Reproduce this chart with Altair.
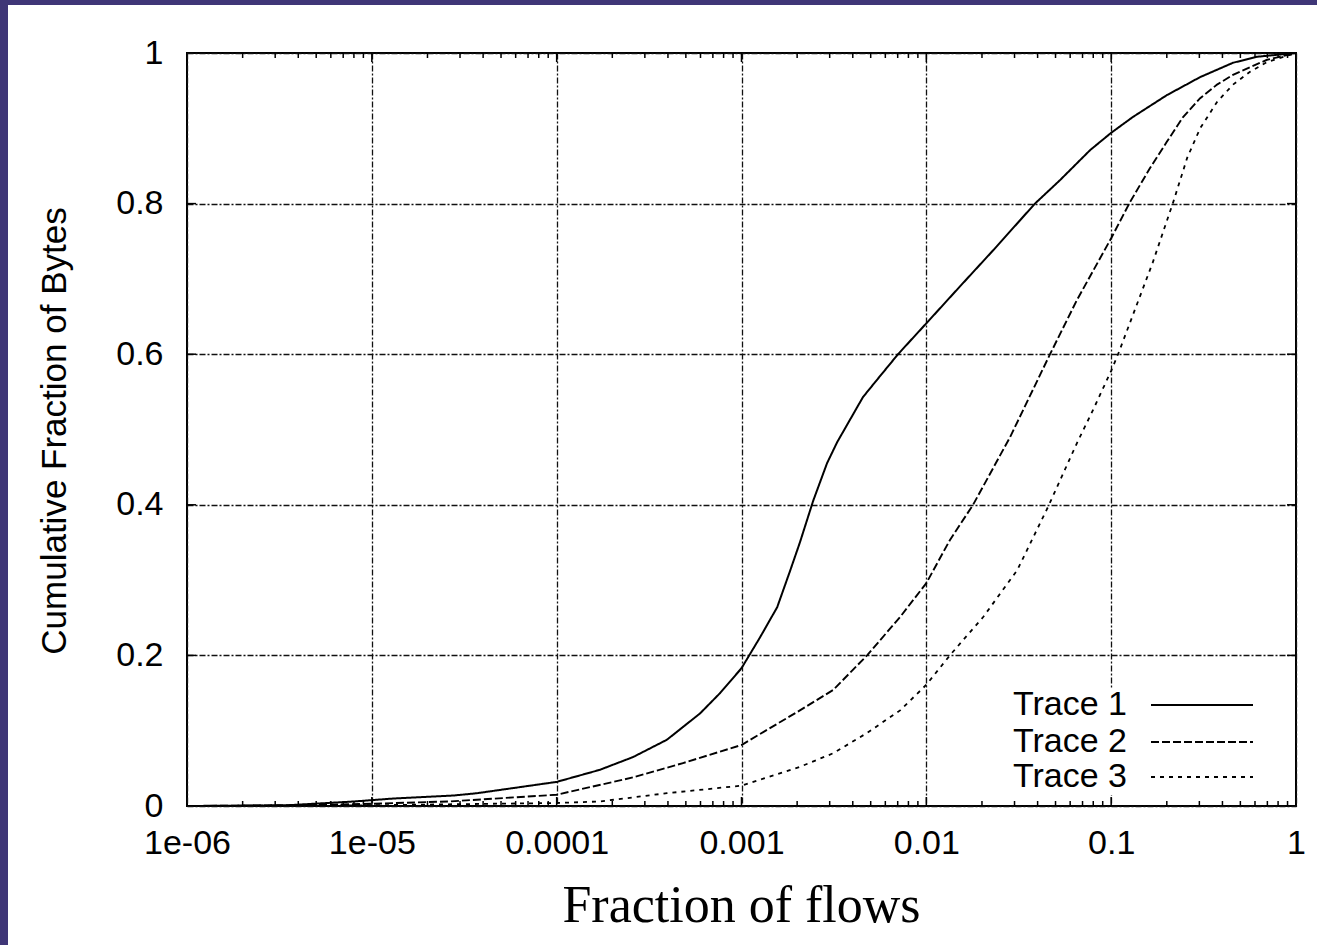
import altair as alt
import pandas as pd

# ---------------- data ----------------
trace_names = ["Trace 1", "Trace 2", "Trace 3"]

t1_x = [1e-6, 3.5e-6, 8.0e-6, 1.32e-5, 2.79e-5, 3.71e-5, 1.0e-4, 1.71e-4, 2.59e-4, 3.95e-4,
        5.97e-4, 7.66e-4, 1.0e-3, 1.26e-3, 1.56e-3, 1.83e-3, 2.07e-3, 2.44e-3, 2.90e-3,
        3.29e-3, 4.54e-3, 5.41e-3, 7.03e-3, 0.01, 0.0152, 0.0230, 0.0387, 0.0528, 0.0769,
        0.1, 0.131, 0.2, 0.303, 0.456, 0.615, 1.0]
t1_y = [0.0, 0.001, 0.006, 0.01, 0.014, 0.017, 0.032, 0.048, 0.065, 0.088,
        0.123, 0.15, 0.183, 0.224, 0.264, 0.312, 0.35, 0.405, 0.455,
        0.483, 0.543, 0.566, 0.6, 0.641, 0.69, 0.738, 0.8, 0.831, 0.871,
        0.894, 0.915, 0.944, 0.968, 0.987, 0.995, 1.0]

t2_x = [1e-6, 4.1e-6, 1e-5, 2.6e-5, 1e-4, 2.59e-4, 4.83e-4, 1e-3, 2.07e-3, 3.13e-3,
        4.78e-3, 7.21e-3, 0.01, 0.0134, 0.0179, 0.0284, 0.0467, 0.0653, 0.1, 0.1265,
        0.162, 0.2, 0.245, 0.303, 0.374, 0.456, 0.564, 0.697, 1.0]
t2_y = [0.0, 0.001, 0.003, 0.006, 0.015, 0.038, 0.057, 0.081, 0.127, 0.154,
        0.2, 0.251, 0.296, 0.353, 0.4, 0.49, 0.6, 0.672, 0.754, 0.802,
        0.847, 0.882, 0.915, 0.94, 0.958, 0.971, 0.981, 0.991, 1.0]

t3_x = [1e-6, 1e-5, 1e-4, 1.71e-4, 3.95e-4, 1e-3, 2.07e-3, 3.13e-3, 4.78e-3, 7.21e-3,
        0.01, 0.0134, 0.0203, 0.031, 0.0455, 0.0653, 0.0798, 0.1, 0.109, 0.168,
        0.216, 0.258, 0.303, 0.374, 0.456, 0.564, 0.697, 1.0]
t3_y = [0.0, 0.001, 0.004, 0.006, 0.017, 0.027, 0.052, 0.07, 0.097, 0.127,
        0.161, 0.2, 0.251, 0.313, 0.397, 0.482, 0.526, 0.578, 0.6, 0.722,
        0.801, 0.861, 0.9, 0.935, 0.958, 0.975, 0.988, 1.0]

x_tick_values = [1e-6, 1e-5, 1e-4, 1e-3, 0.01, 0.1, 1]
x_tick_labels = ["1e-06", "1e-05", "0.0001", "0.001", "0.01", "0.1", "1"]
y_tick_values = [0, 0.2, 0.4, 0.6, 0.8, 1]

x_title = "Fraction of flows"
y_title = "Cumulative Fraction of Bytes"

# ---------------- build table ----------------
rows = []
for name, xs, ys in zip(trace_names, [t1_x, t2_x, t3_x], [t1_y, t2_y, t3_y]):
    for i, (a, b) in enumerate(zip(xs, ys)):
        rows.append({"trace": name, "x": a, "y": b, "order": i})
df = pd.DataFrame(rows)

W, H = 1109, 753
PAD_L, PAD_T, PAD_R, PAD_B = 187, 53, 21, 139
PURPLE = "#3f3677"
SANS = "Liberation Sans"
SERIF = "Liberation Serif"
dashes = [[1, 0], [8, 3], [4, 5]]
widths = [2.0, 1.8, 1.8]

x_scale = alt.Scale(type="log", domain=[1e-6, 1], nice=False)
y_scale = alt.Scale(domain=[0, 1], nice=False, zero=False)

label_expr = "[" + ",".join("'%s'" % l for l in x_tick_labels) + "][round(log(datum.value)/LN10)+6]"

grid_common = dict(grid=True, gridColor="#111111", gridDash=[6, 2, 2, 2], gridWidth=1.3, gridOpacity=1,
                   ticks=False, tickSize=0, domain=False, title=None,
                   labelFont=SANS, labelFontSize=34, labelColor="black",
                   labelOverlap=False, labelFlush=False)

x_axis = alt.Axis(values=x_tick_values, labelExpr=label_expr,
                  labelPadding=47, labelBaseline="alphabetic", **grid_common)
y_axis = alt.Axis(values=y_tick_values, format="~g", labelPadding=24,
                  labelBaseline="middle", **grid_common)

curves = alt.Chart(df).mark_line(color="black", clip=True).encode(
    x=alt.X("x:Q", scale=x_scale, axis=x_axis),
    y=alt.Y("y:Q", scale=y_scale, axis=y_axis),
    strokeDash=alt.StrokeDash("trace:N", scale=alt.Scale(domain=trace_names, range=dashes), legend=None),
    strokeWidth=alt.StrokeWidth("trace:N", scale=alt.Scale(domain=trace_names, range=widths), legend=None),
    order="order:Q",
)

# ---------------- inward ticks (gnuplot style) ----------------
minor_vals = [m * 10.0 ** e for e in range(-6, 0) for m in range(2, 10)]
major_vals = x_tick_values[1:-1]
minor_df = pd.DataFrame({"x": minor_vals})
major_df = pd.DataFrame({"x": major_vals})
ymaj_df = pd.DataFrame({"y": y_tick_values[1:-1]})

def xticks(d, length):
    bottom = alt.Chart(d).mark_rule(color="black", strokeWidth=1.5).encode(
        x=alt.X("x:Q", scale=x_scale, axis=x_axis), y=alt.value(H), y2=alt.value(H - length))
    top = alt.Chart(d).mark_rule(color="black", strokeWidth=1.5).encode(
        x=alt.X("x:Q", scale=x_scale, axis=x_axis), y=alt.value(0), y2=alt.value(length))
    return [bottom, top]

yticks = [
    alt.Chart(ymaj_df).mark_rule(color="black", strokeWidth=1.5).encode(
        y=alt.Y("y:Q", scale=y_scale, axis=y_axis), x=alt.value(0), x2=alt.value(9)),
    alt.Chart(ymaj_df).mark_rule(color="black", strokeWidth=1.5).encode(
        y=alt.Y("y:Q", scale=y_scale, axis=y_axis), x=alt.value(W - 9), x2=alt.value(W)),
]

one = pd.DataFrame({"a": [0]})

# ---------------- decorations: purple frame strips ----------------
purple_left = alt.Chart(one).mark_rect(color=PURPLE).encode(
    x=alt.value(-PAD_L), x2=alt.value(-PAD_L + 8), y=alt.value(-PAD_T), y2=alt.value(H + PAD_B))
purple_top = alt.Chart(one).mark_rect(color=PURPLE).encode(
    x=alt.value(-PAD_L), x2=alt.value(W + PAD_R), y=alt.value(-PAD_T), y2=alt.value(-PAD_T + 5))

# ---------------- legend (text then line sample) ----------------
legend_bg = alt.Chart(one).mark_rect(color="white").encode(
    x=alt.value(808), x2=alt.value(1075), y=alt.value(635), y2=alt.value(742))
legend_layers = [legend_bg]
row_y = [652, 689, 724]
for name, ry, dsh, wd in zip(trace_names, row_y, dashes, widths):
    legend_layers.append(
        alt.Chart(pd.DataFrame({"t": [name]})).mark_text(
            align="right", baseline="middle", font=SANS, fontSize=34, color="black").encode(
            text="t:N", x=alt.value(940), y=alt.value(ry)))
    legend_layers.append(
        alt.Chart(one).mark_rule(color="black", strokeDash=dsh, strokeWidth=wd).encode(
            x=alt.value(964), x2=alt.value(1066), y=alt.value(ry)))

# ---------------- axis titles ----------------
xt = alt.Chart(pd.DataFrame({"t": [x_title]})).mark_text(
    align="center", baseline="alphabetic", font=SERIF, fontSize=52, color="black").encode(
    text="t:N", x=alt.value(W / 2), y=alt.value(869))
yt = alt.Chart(pd.DataFrame({"t": [y_title]})).mark_text(
    align="center", baseline="alphabetic", font=SANS, fontSize=35, color="black", angle=270).encode(
    text="t:N", x=alt.value(-121), y=alt.value(378))

layers = [purple_left, purple_top, curves] + xticks(minor_df, 5) + xticks(major_df, 9) + yticks \
         + legend_layers + [xt, yt]

chart = alt.layer(*layers).properties(
    width=W, height=H, background="white",
    padding={"left": PAD_L, "top": PAD_T, "right": PAD_R, "bottom": PAD_B},
    autosize=alt.AutoSizeParams(type="none"),
).configure_view(stroke="black", strokeWidth=2)

chart.save("out.html", embed_options={"renderer": "svg", "actions": False})
